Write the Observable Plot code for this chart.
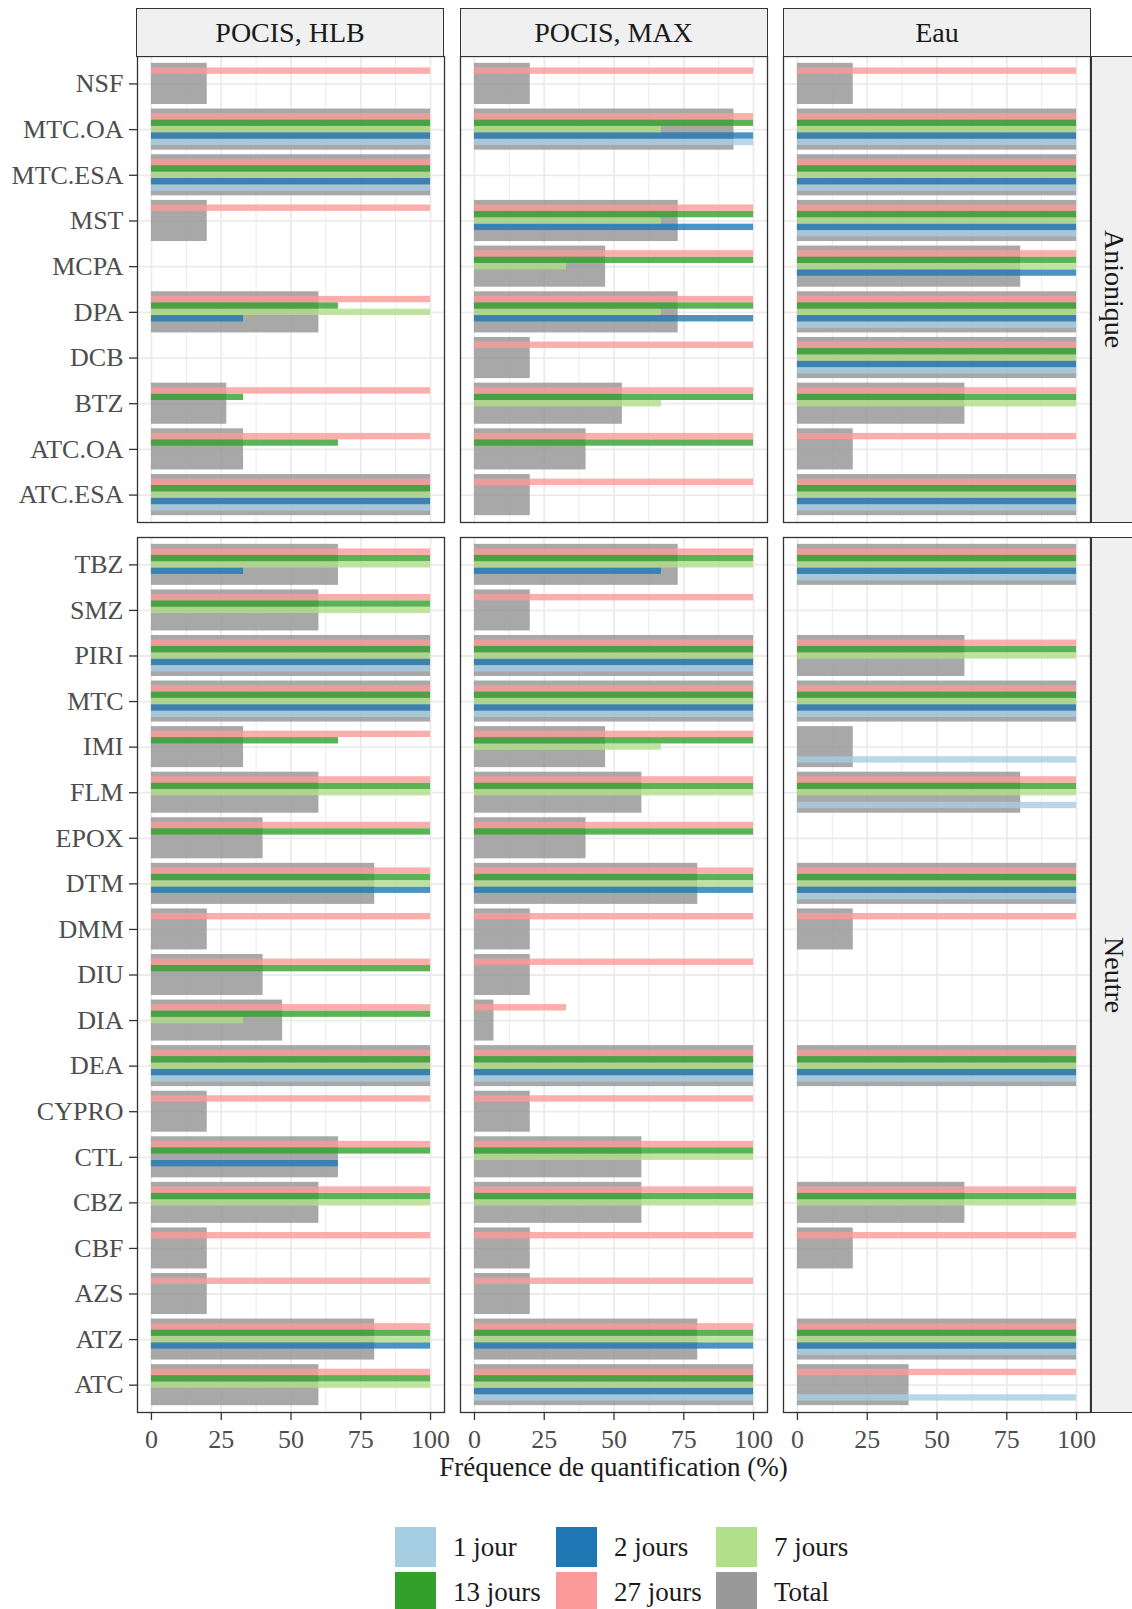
<!DOCTYPE html>
<html><head><meta charset="utf-8">
<script src="https://cdn.jsdelivr.net/npm/d3@7"></script>
<script src="https://cdn.jsdelivr.net/npm/@observablehq/plot@0.6"></script>
<style>
body{margin:0;background:#fff;}
#wrap{position:relative;width:1132px;height:1609px;overflow:hidden;font-family:"Liberation Serif",serif;background:#fff;}
.strip{position:absolute;box-sizing:border-box;background:#f0f0f0;border:1.3px solid #333;color:#1a1a1a;font-size:28px;display:flex;align-items:center;justify-content:center;}
.vstrip{writing-mode:vertical-rl;}
.plotbox{position:absolute;left:0;}
#xtitle{position:absolute;left:136px;width:955px;text-align:center;top:1452px;font-size:27px;color:#1a1a1a;}
.key{position:absolute;width:41px;height:40px;}
.klab{position:absolute;font-size:27px;color:#1a1a1a;line-height:40px;}
</style></head>
<body><div id="wrap"></div>
<script>
// ---------- data ----------
const supports = ["POCIS, HLB", "POCIS, MAX", "Eau"];
const durations = ["1 jour", "2 jours", "7 jours", "13 jours", "27 jours"];
const durationColors = ["#a6cee3", "#1f78b4", "#b2df8a", "#33a02c", "#fb9a99"];
const totalLabel = "Total";
const totalColor = "#999999";
const groups = ["Anionique", "Neutre"];
const xTicks = [0, 25, 50, 75, 100];

// compounds listed from bottom to top
const anioniques = ["ATC.ESA","ATC.OA","BTZ","DCB","DPA","MCPA","MST","MTC.ESA","MTC.OA","NSF"];
const neutres = ["ATC","ATZ","AZS","CBF","CBZ","CTL","CYPRO","DEA","DIA","DIU","DMM","DTM","EPOX","FLM","IMI","MTC","PIRI","SMZ","TBZ"];

// [compound, 1 jour, 2 jours, 7 jours, 13 jours, 27 jours, Total]  (% of quantification)
const hlbAnionique = [
  ["ATC.ESA",100,100,100,100,100,100],
  ["ATC.OA",0,0,0,67,100,33],
  ["BTZ",0,0,0,33,100,27],
  ["DCB",0,0,0,0,0,0],
  ["DPA",0,33,100,67,100,60],
  ["MCPA",0,0,0,0,0,0],
  ["MST",0,0,0,0,100,20],
  ["MTC.ESA",100,100,100,100,100,100],
  ["MTC.OA",100,100,100,100,100,100],
  ["NSF",0,0,0,0,100,20]
];
const maxAnionique = [
  ["ATC.ESA",0,0,0,0,100,20],
  ["ATC.OA",0,0,0,100,100,40],
  ["BTZ",0,0,67,100,100,53],
  ["DCB",0,0,0,0,100,20],
  ["DPA",0,100,67,100,100,73],
  ["MCPA",0,0,33,100,100,47],
  ["MST",0,100,67,100,100,73],
  ["MTC.ESA",0,0,0,0,0,0],
  ["MTC.OA",100,100,67,100,100,93],
  ["NSF",0,0,0,0,100,20]
];
const eauAnionique = [
  ["ATC.ESA",100,100,100,100,100,100],
  ["ATC.OA",0,0,0,0,100,20],
  ["BTZ",0,0,100,100,100,60],
  ["DCB",100,100,100,100,100,100],
  ["DPA",100,100,100,100,100,100],
  ["MCPA",0,100,100,100,100,80],
  ["MST",100,100,100,100,100,100],
  ["MTC.ESA",100,100,100,100,100,100],
  ["MTC.OA",100,100,100,100,100,100],
  ["NSF",0,0,0,0,100,20]
];
const hlbNeutre = [
  ["ATC",0,0,100,100,100,60],
  ["ATZ",0,100,100,100,100,80],
  ["AZS",0,0,0,0,100,20],
  ["CBF",0,0,0,0,100,20],
  ["CBZ",0,0,100,100,100,60],
  ["CTL",0,67,0,100,100,67],
  ["CYPRO",0,0,0,0,100,20],
  ["DEA",100,100,100,100,100,100],
  ["DIA",0,0,33,100,100,47],
  ["DIU",0,0,0,100,100,40],
  ["DMM",0,0,0,0,100,20],
  ["DTM",0,100,100,100,100,80],
  ["EPOX",0,0,0,100,100,40],
  ["FLM",0,0,100,100,100,60],
  ["IMI",0,0,0,67,100,33],
  ["MTC",100,100,100,100,100,100],
  ["PIRI",100,100,100,100,100,100],
  ["SMZ",0,0,100,100,100,60],
  ["TBZ",0,33,100,100,100,67]
];
const maxNeutre = [
  ["ATC",100,100,100,100,100,100],
  ["ATZ",0,100,100,100,100,80],
  ["AZS",0,0,0,0,100,20],
  ["CBF",0,0,0,0,100,20],
  ["CBZ",0,0,100,100,100,60],
  ["CTL",0,0,100,100,100,60],
  ["CYPRO",0,0,0,0,100,20],
  ["DEA",100,100,100,100,100,100],
  ["DIA",0,0,0,0,33,7],
  ["DIU",0,0,0,0,100,20],
  ["DMM",0,0,0,0,100,20],
  ["DTM",0,100,100,100,100,80],
  ["EPOX",0,0,0,100,100,40],
  ["FLM",0,0,100,100,100,60],
  ["IMI",0,0,67,100,100,47],
  ["MTC",100,100,100,100,100,100],
  ["PIRI",100,100,100,100,100,100],
  ["SMZ",0,0,0,0,100,20],
  ["TBZ",0,67,100,100,100,73]
];
const eauNeutre = [
  ["ATC",100,0,0,0,100,40],
  ["ATZ",100,100,100,100,100,100],
  ["AZS",0,0,0,0,0,0],
  ["CBF",0,0,0,0,100,20],
  ["CBZ",0,0,100,100,100,60],
  ["CTL",0,0,0,0,0,0],
  ["CYPRO",0,0,0,0,0,0],
  ["DEA",100,100,100,100,100,100],
  ["DIA",0,0,0,0,0,0],
  ["DIU",0,0,0,0,0,0],
  ["DMM",0,0,0,0,100,20],
  ["DTM",100,100,100,100,100,100],
  ["EPOX",0,0,0,0,0,0],
  ["FLM",100,0,100,100,100,80],
  ["IMI",100,0,0,0,0,20],
  ["MTC",100,100,100,100,100,100],
  ["PIRI",0,0,100,100,100,60],
  ["SMZ",0,0,0,0,0,0],
  ["TBZ",100,100,100,100,100,100]
];

// ---------- build ----------
const dodgeWidth = 0.7, totalWidth = 0.9;
function build(compounds, tables) {
  const bars = [], totals = [];
  tables.forEach((tab, si) => {
    tab.forEach(row => {
      const idx = compounds.indexOf(row[0]);
      durations.forEach((dur, k) => {
        const v = row[k + 1];
        if (v > 0) bars.push({support: supports[si], compound: row[0], idx, k, duration: dur, value: v});
      });
      if (row[6] > 0) totals.push({support: supports[si], compound: row[0], idx, value: row[6]});
    });
  });
  return {bars, totals};
}

const wrap = document.getElementById("wrap");
const M = 6;
function rowPlot(compounds, tables, bodyH, bottom) {
  const n = compounds.length;
  const {bars, totals} = build(compounds, tables);
  const marks = [
    Plot.gridX({ticks: [12.5, 37.5, 62.5, 87.5], stroke: "#ebebeb", strokeOpacity: 1, strokeWidth: 1}),
    Plot.gridX({ticks: xTicks, stroke: "#ebebeb", strokeOpacity: 1, strokeWidth: 1.8}),
    Plot.gridY({ticks: d3.range(n), stroke: "#ebebeb", strokeOpacity: 1, strokeWidth: 1.8}),
    Plot.rectX(totals, {fx: "support", x1: d => 0, x2: "value",
      y1: d => d.idx - totalWidth / 2, y2: d => d.idx + totalWidth / 2,
      fill: totalColor, fillOpacity: 0.85}),
    Plot.rectX(bars, {fx: "support", x1: d => 0, x2: "value",
      y1: d => d.idx - dodgeWidth / 2 + d.k * dodgeWidth / 5,
      y2: d => d.idx - dodgeWidth / 2 + (d.k + 1) * dodgeWidth / 5,
      fill: "duration", fillOpacity: 0.8}),
    Plot.frame({stroke: "#333", strokeWidth: 1.3}),
    Plot.axisY({ticks: d3.range(n), tickFormat: i => compounds[i], tickSize: 8, tickPadding: 6,
      fontSize: 26, stroke: "#333", strokeWidth: 1.3, label: null, fill: "#4d4d4d"})
  ];
  if (bottom) marks.push(Plot.axisX({ticks: xTicks, tickSize: 8, tickPadding: 9, fontSize: 26,
      stroke: "#333", strokeWidth: 1.3, label: null, fill: "#4d4d4d"}));
  const mb = bottom ? 50 : M;
  return Plot.plot({
    width: 1132, height: M + bodyH + mb,
    marginLeft: 136, marginRight: 41, marginTop: M, marginBottom: mb,
    style: {fontFamily: "Liberation Serif, serif", fontSize: "26px", color: "#4d4d4d", background: "transparent", overflow: "visible"},
    fx: {domain: supports, paddingInner: 0.048, paddingOuter: 0, axis: null},
    x: {domain: [-5, 105], axis: bottom ? undefined : null},
    y: {domain: [-0.6, n - 0.4]},
    color: {domain: durations, range: durationColors},
    marks
  });
}

const rows = [
  {name: groups[0], comps: anioniques, tabs: [hlbAnionique, maxAnionique, eauAnionique], top: 56, h: 466, bottom: false},
  {name: groups[1], comps: neutres, tabs: [hlbNeutre, maxNeutre, eauNeutre], top: 537, h: 875, bottom: true}
];
rows.forEach(r => {
  const box = document.createElement("div");
  box.className = "plotbox";
  box.style.top = (r.top - M) + "px";
  box.appendChild(rowPlot(r.comps, r.tabs, r.h, r.bottom));
  wrap.appendChild(box);
  const vs = document.createElement("div");
  vs.className = "strip vstrip";
  vs.style.left = "1091px"; vs.style.top = r.top + "px";
  vs.style.width = "46px"; vs.style.height = (r.h + 1) + "px";
  vs.textContent = r.name;
  wrap.appendChild(vs);
});
// column strips (positions follow the fx band layout: step 323.5, band 308)
supports.forEach((s, i) => {
  const d = document.createElement("div");
  d.className = "strip";
  d.style.left = (136 + i * 323.5) + "px"; d.style.top = "8px";
  d.style.width = "308px"; d.style.height = "49px";
  d.textContent = s;
  wrap.appendChild(d);
});
const xt = document.createElement("div");
xt.id = "xtitle"; xt.textContent = "Fréquence de quantification (%)";
wrap.appendChild(xt);
// legend
const legendItems = durations.map((d, i) => ({label: d, color: durationColors[i]}))
  .concat([{label: totalLabel, color: totalColor}]);
const colX = [395, 556, 716], rowY = [1527, 1572];
legendItems.forEach((it, i) => {
  const c = i % 3, r = Math.floor(i / 3);
  const k = document.createElement("div");
  k.className = "key"; k.style.left = colX[c] + "px"; k.style.top = rowY[r] + "px"; k.style.background = it.color;
  wrap.appendChild(k);
  const l = document.createElement("div");
  l.className = "klab"; l.style.left = (colX[c] + 58) + "px"; l.style.top = rowY[r] + "px";
  l.textContent = it.label;
  wrap.appendChild(l);
});
</script></body></html>
